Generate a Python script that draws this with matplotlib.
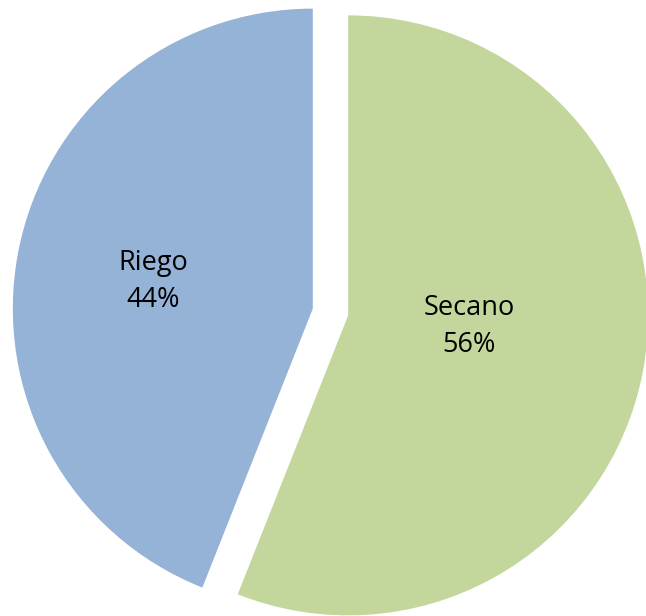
import matplotlib
matplotlib.use("Agg")
import matplotlib.pyplot as plt
import numpy as np

categories = ["Secano", "Riego"]
values = [56, 44]
colors = ["#C3D69B", "#95B3D7"]
label_dist = [0.405, 0.54]
label_angle_shift = [5.5, 1.2]

W, H = 646, 616
fig = plt.figure(figsize=(W / 100, H / 100), dpi=100)
ax = fig.add_axes([0, 0, 1, 1])

cx, cy, R = 330.5, H - 312, 300
gap = 18
wedges, _ = ax.pie(values, colors=colors, startangle=90, counterclock=False,
                   explode=[gap, gap], center=(cx, cy), radius=R,
                   wedgeprops=dict(linewidth=0))
ax.set_xlim(0, W)
ax.set_ylim(0, H)
ax.set_aspect("equal")
ax.axis("off")

for w, cat, v, d, s in zip(wedges, categories, values, label_dist, label_angle_shift):
    mid = np.deg2rad((w.theta1 + w.theta2) / 2 + s)
    x0, y0 = w.center
    ax.text(x0 + d * R * np.cos(mid), y0 + d * R * np.sin(mid),
            f"{cat}\n{v}%", ha="center", va="center", fontsize=19.5,
            family="Open Sans", linespacing=1.45, color="black")

fig.savefig("out.png", dpi=100)
